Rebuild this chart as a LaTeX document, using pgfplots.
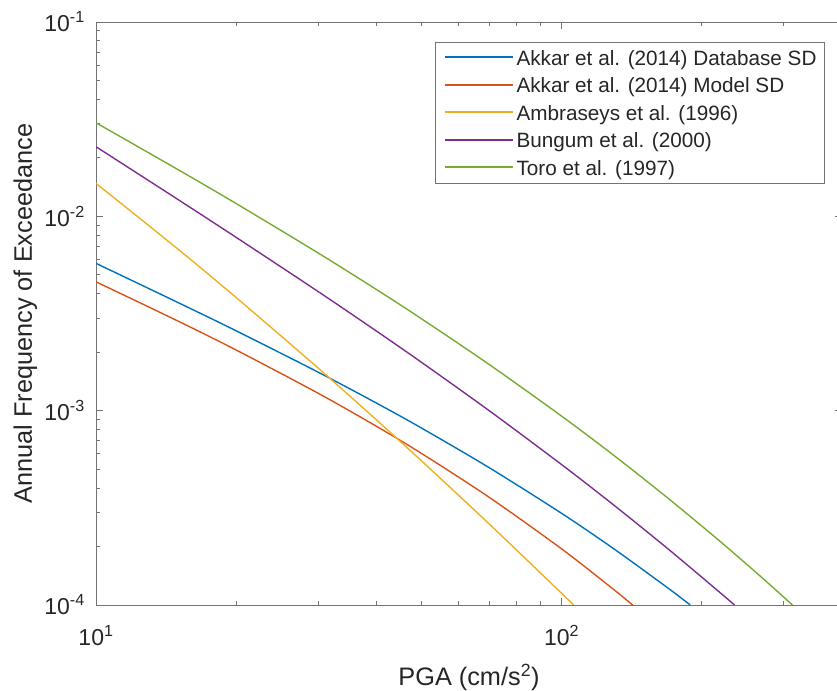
\documentclass[border=0pt]{standalone}
\usepackage{pgfplots}
\pgfplotsset{compat=1.18}
\usepackage{fontspec}
\setmainfont{Liberation Sans}
\usetikzlibrary{calc}
\definecolor{c1}{rgb}{0,0.447,0.741}
\definecolor{c2}{rgb}{0.850,0.325,0.098}
\definecolor{c3}{rgb}{0.929,0.694,0.125}
\definecolor{c4}{rgb}{0.494,0.184,0.556}
\definecolor{c5}{rgb}{0.466,0.674,0.188}
\definecolor{axgray}{gray}{0.45}
\definecolor{txtgray}{gray}{0.15}
\begin{document}
\begin{tikzpicture}
\begin{axis}[
  xmode=log, ymode=log,
  scale only axis,
  width=746bp, height=583bp,
  xmin=10, xmax=400, ymin=1e-4, ymax=1e-1,
  axis line style={draw=axgray, line width=1bp},
  every tick/.style={draw=axgray, line width=0.9bp},
  major tick length=7bp, minor tick length=4bp,
  tick align=inside,
  xtick={10,100},
  xticklabels={10\textsuperscript{1},10\textsuperscript{2}},
  minor xtick={20,30,40,50,60,70,80,90,200,300},
  ytick={1e-4,1e-3,1e-2,1e-1},
  yticklabels={10\textsuperscript{-4},10\textsuperscript{-3},10\textsuperscript{-2},10\textsuperscript{-1}},
  minor ytick={2e-4,3e-4,4e-4,5e-4,6e-4,7e-4,8e-4,9e-4,2e-3,3e-3,4e-3,5e-3,6e-3,7e-3,8e-3,9e-3,2e-2,3e-2,4e-2,5e-2,6e-2,7e-2,8e-2,9e-2},
  tick label style={font=\fontsize{23bp}{27bp}\selectfont, text=txtgray, inner sep=0pt},
  xticklabel style={anchor=base, yshift=-40bp},
  yticklabel style={anchor=east, xshift=-11bp},
  xlabel={PGA (cm/s\textsuperscript{2})},
  ylabel={Annual Frequency of Exceedance},
  label style={font=\fontsize{25.3bp}{30bp}\selectfont, text=txtgray, inner sep=0pt},
  xlabel style={at={(axis description cs:0.5,-0.1372)}, anchor=base},
  ylabel style={at={(axis description cs:-0.0858,0.5)}, anchor=base},
  legend style={at={(axis description cs:0.9772,0.9662)}, anchor=north east,
    draw=axgray, line width=1bp, fill=white,
    font=\fontsize{20.7bp}{24bp}\selectfont, text=txtgray,
    inner xsep=8bp, inner ysep=5.9bp, row sep=8bp, column sep=3bp,
    nodes={inner sep=0pt, text height=17bp, text depth=2.5bp}},
  legend cell align=left,
  legend image code/.code={\draw[#1, line width=1.8bp] (0bp,0.6bp) -- (68bp,0.6bp);},
  every axis plot/.append style={line width=1.4bp, smooth, tension=0.5},
]
\addplot[c1] coordinates {
(10,0.00573) (15,0.003602) (20,0.002576) (30,0.001578) (40,0.0010949)
(50,0.0008141) (70,0.0005078) (100,0.0002961) (130,0.0001932) (170,0.0001212) (188.9,0.0001)};
\addlegendentry{Akkar et al. (2014) Database SD}
\addplot[c2] coordinates {
(10,0.004606) (15,0.0028912) (20,0.0020516) (30,0.0012294) (40,0.0008317)
(50,0.0006027) (70,0.0003574) (100,0.0001944) (130,0.000119) (142.0,0.0001)};
\addlegendentry{Akkar et al. (2014) Model SD}
\addplot[c3] coordinates {
(10,0.01478) (15,0.006779) (20,0.0038213) (30,0.0016562) (40,0.0008972)
(50,0.0005516) (70,0.0002604) (100,0.0001148) (106.1,0.0001)};
\addlegendentry{Ambraseys et al. (1996)}
\addplot[c4] coordinates {
(10,0.02282) (15,0.012204) (20,0.007795) (30,0.0041016) (40,0.00257)
(50,0.001774) (70,0.0009973) (100,0.0005277) (130,0.0003239) (170,0.0001927) (220,0.0001146) (235.0,0.0001)};
\addlegendentry{Bungum et al. (2000)}
\addplot[c5] coordinates {
(10,0.0303) (15,0.0174) (20,0.011635) (30,0.006478) (40,0.004204)
(50,0.002972) (70,0.001724) (100,0.000937) (130,0.000584) (170,0.0003513) (220,0.0002104) (270,0.0001375) (313.1,0.0001)};
\addlegendentry{Toro et al. (1997)}
\end{axis}
\pgfresetboundingbox
\path[use as bounding box] ($(current axis.south west)+(-96bp,-86bp)$) rectangle ($(current axis.north west)+(741bp,22bp)$);
\end{tikzpicture}
\end{document}
